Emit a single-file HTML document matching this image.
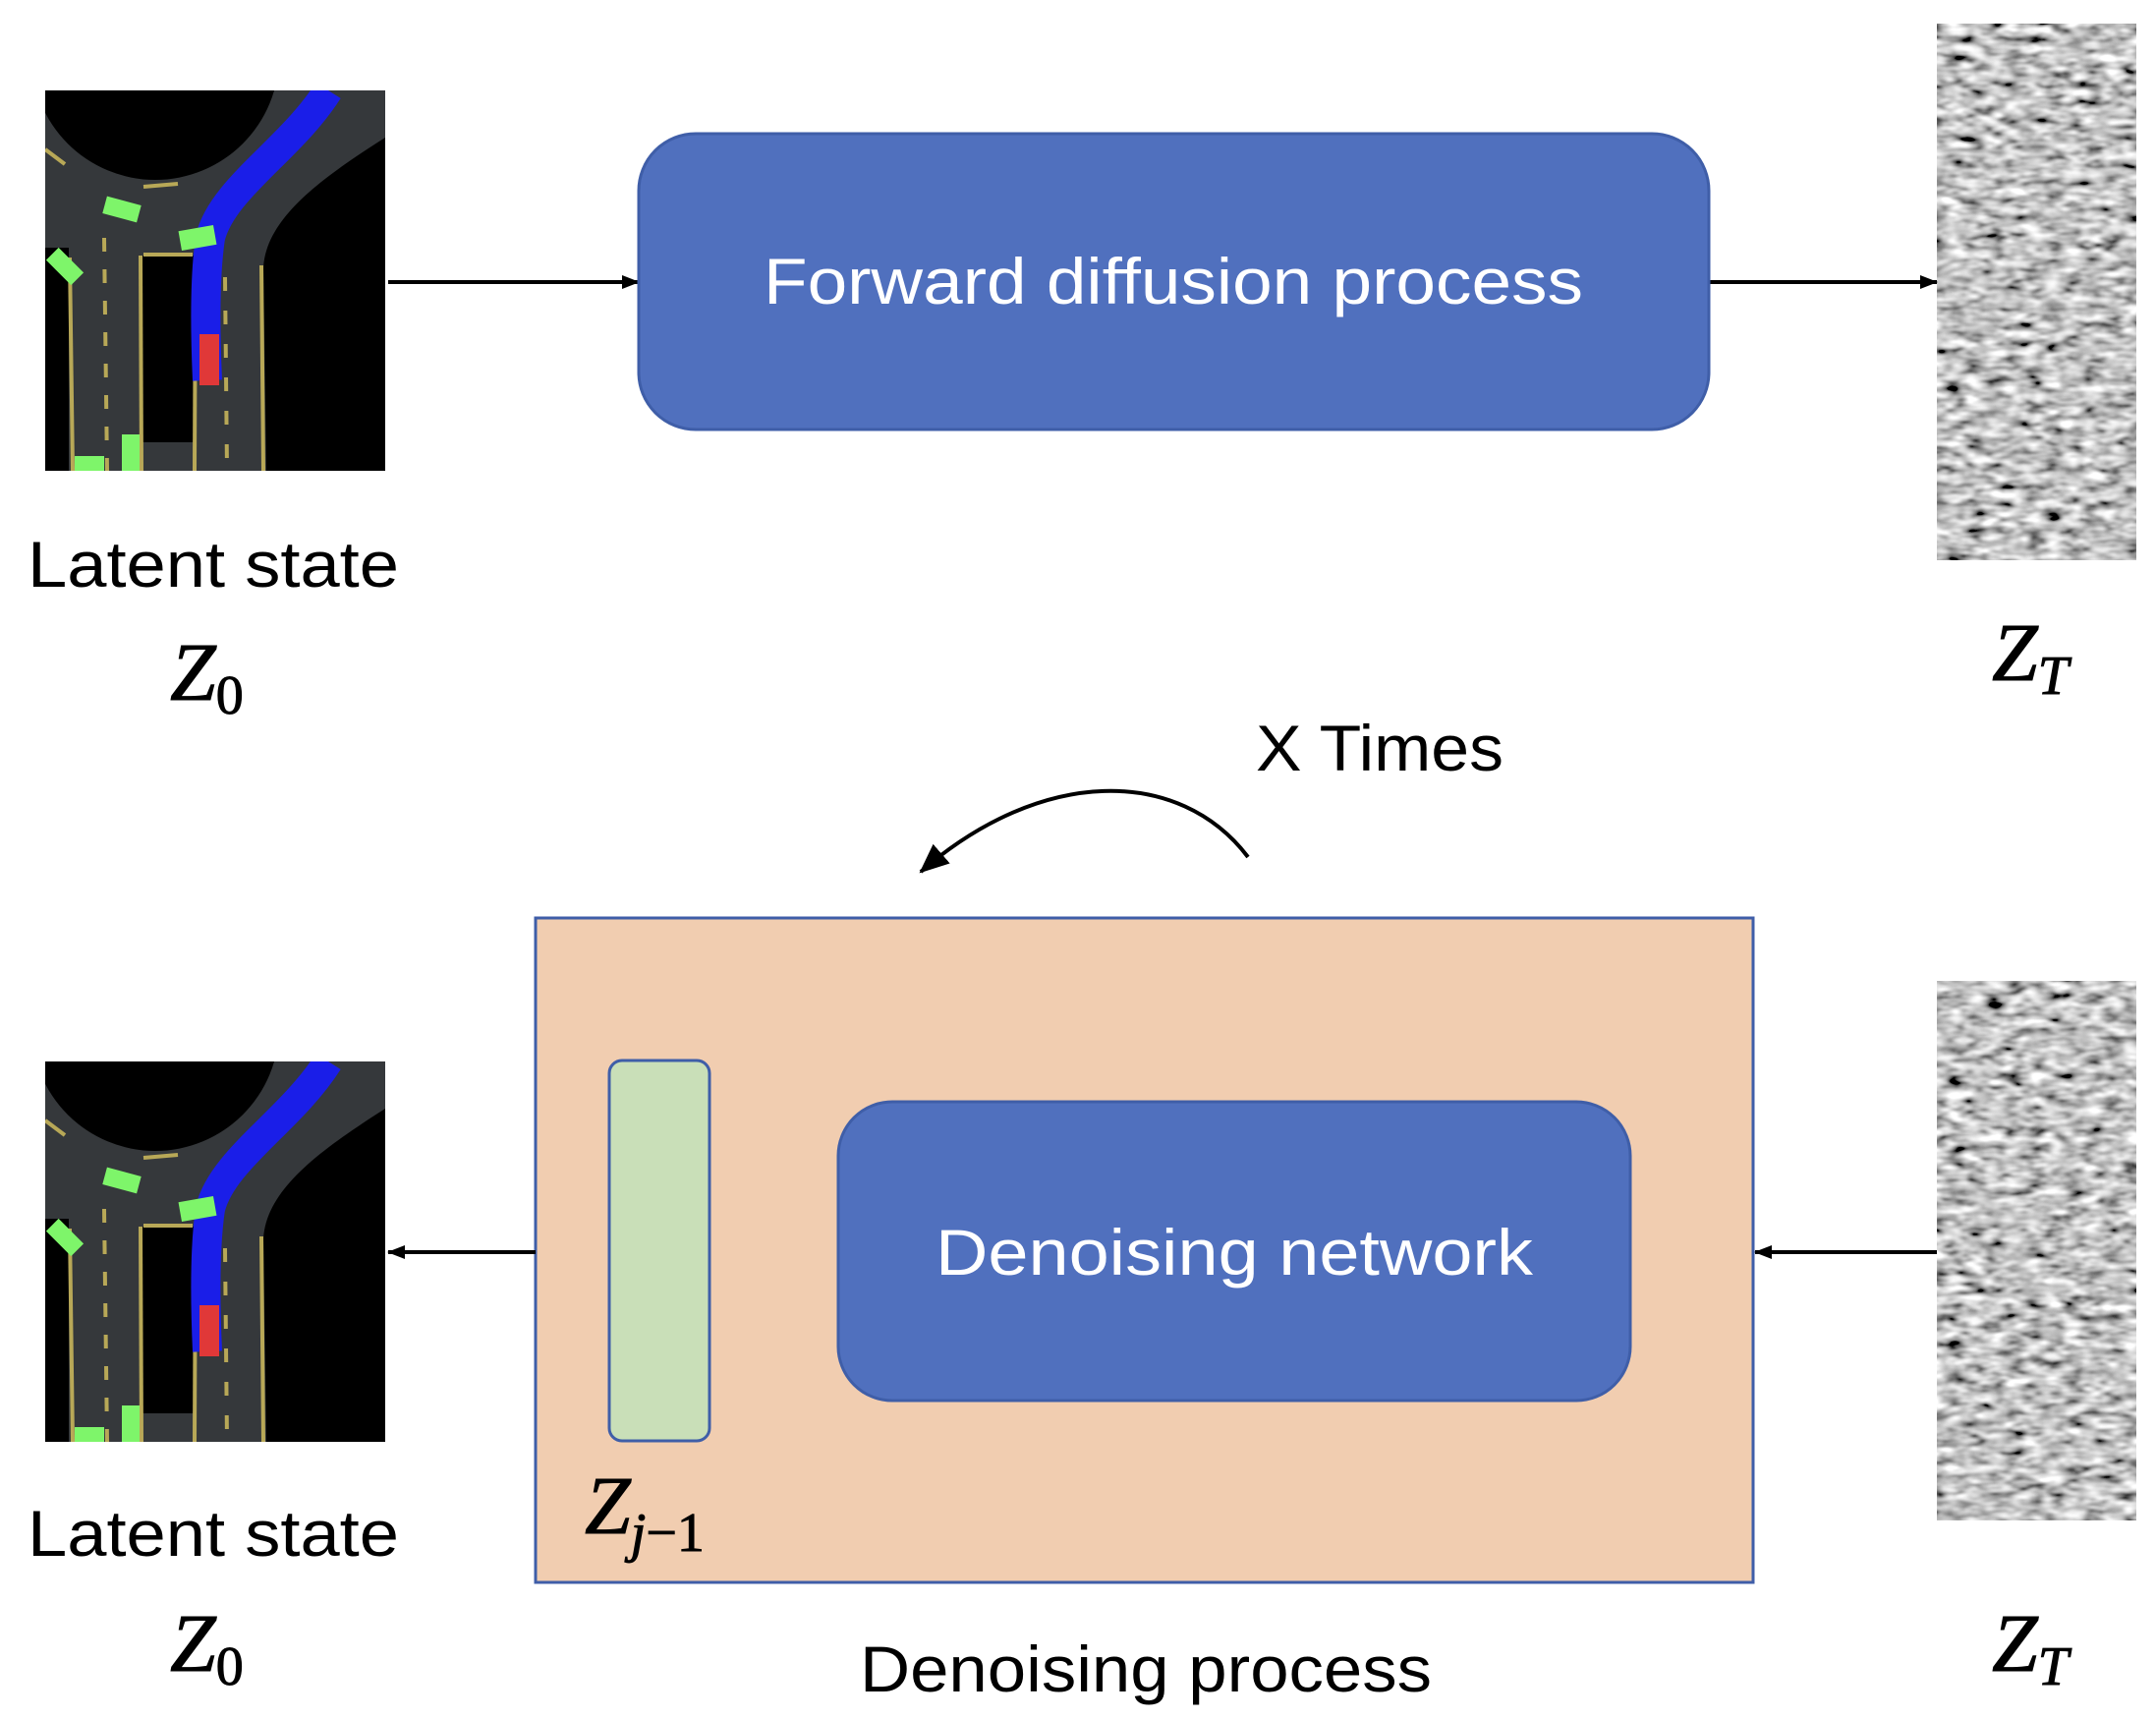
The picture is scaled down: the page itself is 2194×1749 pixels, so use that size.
<!DOCTYPE html>
<html><head><meta charset="utf-8"><style>html,body{margin:0;padding:0;background:#fff}svg{display:block}</style></head><body>
<svg width="2194" height="1749" viewBox="0 0 2194 1749" xmlns="http://www.w3.org/2000/svg">
<defs>
<filter id="noise" x="0" y="0" width="100%" height="100%">
<feTurbulence type="fractalNoise" baseFrequency="0.05 0.11" numOctaves="2" seed="4"/>
<feColorMatrix type="matrix" values="0.33 0.33 0.33 0 0  0.33 0.33 0.33 0 0  0.33 0.33 0.33 0 0  0 0 0 0 1"/>
<feComponentTransfer><feFuncR type="linear" slope="2.8" intercept="-0.85"/><feFuncG type="linear" slope="2.8" intercept="-0.85"/><feFuncB type="linear" slope="2.8" intercept="-0.85"/></feComponentTransfer>
</filter>
<clipPath id="clip"><rect x="0" y="0" width="346" height="387"/></clipPath>
<marker id="ah" markerWidth="18" markerHeight="14" refX="17" refY="7" orient="auto" markerUnits="userSpaceOnUse"><path d="M0,0 L18,7 L0,14 z" fill="#000"/></marker>
<marker id="ah2" markerWidth="30" markerHeight="26" refX="28" refY="13" orient="auto" markerUnits="userSpaceOnUse"><path d="M0,0 L30,13 L0,26 z" fill="#000"/></marker>
<g id="road">
<g clip-path="url(#clip)">
<rect x="0" y="0" width="346" height="387" fill="#35383b"/>
<circle cx="112" cy="-35" r="126" fill="#000"/>
<path d="M346,48 C280,90 225,130 222,180 L225,387 L346,387 z" fill="#000"/>
<rect x="0" y="160" width="24" height="227" fill="#000"/>
<rect x="98" y="168" width="54" height="190" fill="#000"/>
<g stroke="#b8a857" stroke-width="4" fill="none">
<path d="M25,170 L28,387"/><path d="M97,168 L98,387"/><path d="M153,168 L152,387"/><path d="M220,178 L222,387"/>
<path d="M100,167 L150,167"/>
<path d="M60,150 L63,387" stroke-dasharray="14 18"/>
<path d="M183,190 L185,387" stroke-dasharray="14 20"/>
<path d="M0,60 L20,75" />
<path d="M100,98 L135,95"/>
</g>
<path d="M288,0 C250,60 180,100 168,150 C162,190 163,250 165,295" stroke="#1a1ee8" stroke-width="30" fill="none"/>
<rect x="157" y="248" width="20" height="52" fill="#e03838"/>
<g fill="#7ef56a">
<rect x="60" y="112" width="36" height="18" transform="rotate(15 78 121)"/>
<rect x="137" y="140" width="36" height="20" transform="rotate(-10 155 150)"/>
<rect x="2" y="170" width="36" height="18" transform="rotate(45 20 179)"/>
<rect x="78" y="350" width="18" height="37"/>
<rect x="30" y="372" width="30" height="15"/>
</g>
</g>
</g>
</defs>

<g transform="translate(46,92)"><use href="#road"/></g>
<g transform="translate(46,1080)"><use href="#road"/></g>

<rect x="1971" y="24" width="203" height="546" filter="url(#noise)"/>
<rect x="1971" y="998" width="203" height="549" filter="url(#noise)"/>

<line x1="395" y1="287" x2="650" y2="287" stroke="#000" stroke-width="4" marker-end="url(#ah)"/>
<line x1="1739" y1="287" x2="1971" y2="287" stroke="#000" stroke-width="4" marker-end="url(#ah)"/>

<rect x="650" y="136" width="1089" height="301" rx="58" fill="#5070be" stroke="#3f5ea8" stroke-width="3"/>
<text x="1194" y="309" font-family="Liberation Sans, sans-serif" font-size="66" fill="#fff" text-anchor="middle" textLength="834" lengthAdjust="spacingAndGlyphs">Forward diffusion process</text>

<path d="M1270,872 C1200,780 1060,780 937,887" stroke="#000" stroke-width="4" fill="none" marker-end="url(#ah2)"/>

<rect x="545" y="934" width="1239" height="676" fill="#f1cdb0" stroke="#3f5ea8" stroke-width="3"/>
<rect x="620" y="1079" width="102" height="387" rx="13" fill="#c9dfb8" stroke="#3f5ea8" stroke-width="3"/>
<rect x="853" y="1121" width="806" height="304" rx="55" fill="#5070be" stroke="#3f5ea8" stroke-width="3"/>
<text x="1256" y="1297" font-family="Liberation Sans, sans-serif" font-size="66" fill="#fff" text-anchor="middle" textLength="608" lengthAdjust="spacingAndGlyphs">Denoising network</text>

<g font-family="Liberation Sans, sans-serif" font-size="66" fill="#000">
<text x="28" y="597" textLength="378" lengthAdjust="spacingAndGlyphs">Latent state</text>
<text x="28" y="1583" textLength="378" lengthAdjust="spacingAndGlyphs">Latent state</text>
<text x="1278" y="784" textLength="252" lengthAdjust="spacingAndGlyphs">X Times</text>
<text x="875" y="1721" textLength="582" lengthAdjust="spacingAndGlyphs">Denoising process</text>
</g>
<g font-family="Liberation Serif, serif" font-style="italic" fill="#000" stroke="#000" stroke-width="1">
<text x="173" y="712" font-size="84">Z<tspan font-style="normal" font-size="56" dy="14">0</tspan></text>
<text x="173" y="1700" font-size="84">Z<tspan font-style="normal" font-size="56" dy="14">0</tspan></text>
<text x="2027" y="692" font-size="84">Z<tspan font-size="56" dy="14">T</tspan></text>
<text x="2027" y="1700" font-size="84">Z<tspan font-size="56" dy="14">T</tspan></text>
<text x="595" y="1560" font-size="84">Z<tspan font-size="56" dy="18">j</tspan><tspan font-style="normal" font-size="56">−1</tspan></text>
</g>

<line x1="545" y1="1274" x2="395" y2="1274" stroke="#000" stroke-width="4" marker-end="url(#ah)"/>
<line x1="1971" y1="1274" x2="1786" y2="1274" stroke="#000" stroke-width="4" marker-end="url(#ah)"/>
</svg>
</body></html>
